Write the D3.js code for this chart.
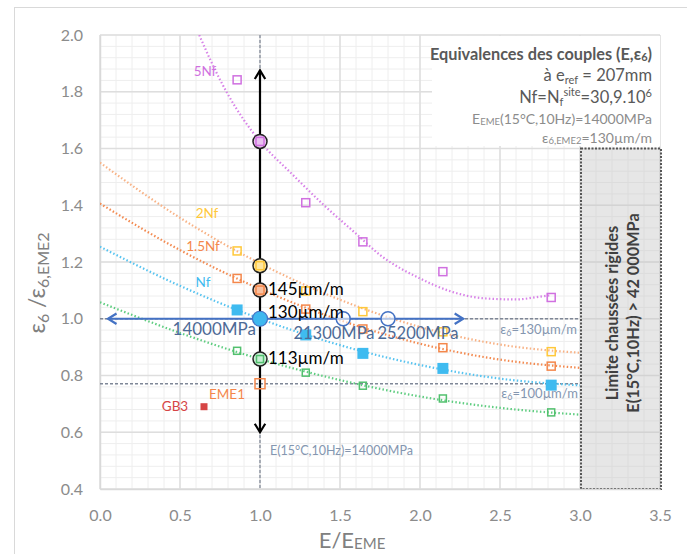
<!DOCTYPE html>
<html><head><meta charset="utf-8">
<script src="https://cdn.jsdelivr.net/npm/d3@7/dist/d3.min.js"></script>
<style>
body{margin:0;background:#fff;}
svg{display:block;font-family:Lato,"Open Sans",sans-serif;}
</style></head>
<body><svg id="c" width="687" height="554"></svg>
<script>
// ---- data ----
const xTicks = [0.0,0.5,1.0,1.5,2.0,2.5,3.0,3.5];
const yTicks = [0.4,0.6,0.8,1.0,1.2,1.4,1.6,1.8,2.0];
const xE = [0.857, 1.0, 1.286, 1.643, 2.143, 2.82];
const v5Nf   = [1.842, 1.625, 1.409, 1.271, 1.166, 1.075];
const v2Nf   = [1.239, 1.187, 1.098, 1.025, 0.954, 0.884];
const v15Nf  = [1.142, 1.101, 1.034, 0.964, 0.898, 0.833];
const vNf    = [1.031, 1.000, 0.943, 0.878, 0.825, 0.766];
const vLow   = [0.887, 0.858, 0.810, 0.764, 0.719, 0.670];
// trend lines
const tX5 = [0.62, 0.7, 0.8, 0.9, 1.0, 1.2, 1.4, 1.6, 1.75, 2.0, 2.2, 2.4, 2.6, 2.75, 2.82];
const t5Nf = [2.00, 1.90, 1.79, 1.70, 1.625, 1.51, 1.40, 1.30, 1.225, 1.142, 1.095, 1.072, 1.068, 1.078, 1.083];
const tX = [0, 0.5, 1.0, 1.5, 2.0, 2.5, 3.0];
const t2Nf  = [1.550, 1.356, 1.195, 1.067, 0.971, 0.909, 0.880];
const t15Nf = [1.406, 1.242, 1.105, 0.995, 0.912, 0.856, 0.827];
const tNf   = [1.254, 1.116, 1.000, 0.907, 0.837, 0.789, 0.765];
const tLow  = [1.058, 0.950, 0.858, 0.784, 0.726, 0.686, 0.662];
const eme1 = [1.0, 0.771];
const gb3 = [0.65, 0.69];
const circlesE = [1.52, 1.80];
const circleLabels = ["14000MPa","21300MPa","25200MPa"];
const strainLabels = ["145µm/m","130µm/m","113µm/m"];

const svg = d3.select("#c");
const x = d3.scaleLinear().domain([0,3.5]).range([100,660]);
const y = d3.scaleLinear().domain([0.4,2.0]).range([489,35]);

// outer border
svg.append("rect").attr("x",14.5).attr("y",7.5).attr("width",700).attr("height",600)
  .attr("fill","#fff").attr("stroke","#d9d9d9");

// grid
const g = svg.append("g");
d3.range(0,3.5001,0.1).forEach(v=>{
  g.append("line").attr("x1",x(v)).attr("x2",x(v)).attr("y1",y(0.4)).attr("y2",y(2.0))
   .attr("stroke","#eeeeee").attr("stroke-width",1);
});
d3.range(0.4,2.0001,0.04).forEach(v=>{
  g.append("line").attr("x1",x(0)).attr("x2",x(3.5)).attr("y1",y(v)).attr("y2",y(v))
   .attr("stroke","#eeeeee").attr("stroke-width",1);
});
xTicks.forEach(v=>{
  g.append("line").attr("x1",x(v)).attr("x2",x(v)).attr("y1",y(0.4)).attr("y2",y(2.0))
   .attr("stroke","#dedede").attr("stroke-width",1.5);
});
yTicks.forEach(v=>{
  g.append("line").attr("x1",x(0)).attr("x2",x(3.5)).attr("y1",y(v)).attr("y2",y(v))
   .attr("stroke","#dedede").attr("stroke-width",1.5);
});

// white box behind top-right text
svg.append("rect").attr("x",432).attr("y",36).attr("width",228).attr("height",110).attr("fill","#fff");

// gray limit box
svg.append("rect").attr("x",x(3.0)+1).attr("y",y(1.6)).attr("width",x(3.5)-x(3.0)).attr("height",y(0.4)-y(1.6))
  .attr("fill","rgba(195,195,195,0.42)").attr("stroke","#555").attr("stroke-width",2).attr("stroke-dasharray","2,1.5");

// axes
const ax = svg.append("g").attr("transform",`translate(0,${y(0.4)})`)
  .call(d3.axisBottom(x).tickValues(xTicks).tickFormat(d3.format(".1f")).tickSize(0).tickPadding(21));
const ay = svg.append("g").attr("transform",`translate(${x(0)},0)`)
  .call(d3.axisLeft(y).tickValues(yTicks).tickFormat(d3.format(".1f")).tickSize(0).tickPadding(17));
[ax,ay].forEach(a=>{
  a.select(".domain").attr("stroke","#d9d9d9").attr("stroke-width",1.5);
  a.selectAll("text").attr("fill","#8c8c8c").style("font-size","16px").style("font-family","Lato");
});

// dashed reference lines
const dashC = "#7f8797";
svg.append("line").attr("x1",x(1)).attr("x2",x(1)).attr("y1",y(2.0)).attr("y2",y(0.4))
  .attr("stroke",dashC).attr("stroke-width",1.2).attr("stroke-dasharray","3,2");
svg.append("line").attr("x1",x(0)).attr("x2",x(3.0)).attr("y1",y(1.0)).attr("y2",y(1.0))
  .attr("stroke",dashC).attr("stroke-width",1.5).attr("stroke-dasharray","3,2");
svg.append("line").attr("x1",x(0)).attr("x2",x(3.0)).attr("y1",y(0.771)).attr("y2",y(0.771))
  .attr("stroke",dashC).attr("stroke-width",1.5).attr("stroke-dasharray","3,2");

// clip
svg.append("clipPath").attr("id","pc").append("rect").attr("x",x(0)).attr("y",y(2.0)).attr("width",x(3.5)-x(0)).attr("height",y(0.4)-y(2.0));

const line = d3.line().x(d=>x(d[0])).y(d=>y(d[1])).curve(d3.curveMonotoneX);
const curves = [
  [tX5, t5Nf, "#d883e8"],
  [tX, t2Nf, "#f8b285"],
  [tX, t15Nf, "#f38a50"],
  [tX, tNf, "#56c3f0"],
  [tX, tLow, "#5fcd80"]
];
curves.forEach(([xs,ys,c])=>{
  svg.append("path").attr("clip-path","url(#pc)")
    .attr("d", line(xs.map((v,i)=>[v,ys[i]])))
    .attr("fill","none").attr("stroke",c).attr("stroke-width",2.2)
    .attr("stroke-dasharray","1.5,2.2").attr("stroke-linecap","butt");
});

// arrows
function chevron(sel, px, py, dir, color, w){
  const a = dir*Math.PI/180, L=10, sp=0.55;
  const p1=[px - L*Math.cos(a-sp), py - L*Math.sin(a-sp)];
  const p2=[px - L*Math.cos(a+sp), py - L*Math.sin(a+sp)];
  sel.append("path").attr("d",`M${p1[0]},${p1[1]}L${px},${py}L${p2[0]},${p2[1]}`)
    .attr("fill","none").attr("stroke",color).attr("stroke-width",w);
}
svg.append("line").attr("x1",x(1)).attr("x2",x(1)).attr("y1",y(1.875)).attr("y2",y(0.6))
  .attr("stroke","#000").attr("stroke-width",2.2);
chevron(svg, x(1), y(1.875), -90, "#000", 2.2);
chevron(svg, x(1), y(0.6), 90, "#000", 2.2);

const blue = "#4472c4";
svg.append("line").attr("x1",x(0.05)).attr("x2",x(2.27)).attr("y1",y(1.0)).attr("y2",y(1.0))
  .attr("stroke",blue).attr("stroke-width",2.2);
chevron(svg, x(0.05), y(1.0), 180, blue, 2.2);
chevron(svg, x(2.27), y(1.0), 0, blue, 2.2);

circlesE.forEach(v=>{
  svg.append("circle").attr("cx",x(v)).attr("cy",y(1.0)).attr("r",7)
    .attr("fill","rgba(255,255,255,0.6)").attr("stroke",blue).attr("stroke-width",1.5);
});

const circleSeries = [[v5Nf[1],"#e8c0f0"],[v2Nf[1],"#ffe6a0"],[v15Nf[1],"#f8c0a0"],[vLow[1],"#c8eed4"]];
circleSeries.forEach(([v,f])=>{
  svg.append("circle").attr("cx",x(1)).attr("cy",y(v)).attr("r",7)
    .attr("fill",f).attr("stroke","#222").attr("stroke-width",1.5);
});

function openSq(xs, ys, color, s){
  xs.forEach((v,i)=>{
    svg.append("rect").attr("x",x(v)-s/2).attr("y",y(ys[i])-s/2).attr("width",s).attr("height",s)
      .attr("fill","none").attr("stroke",color).attr("stroke-width",1.5);
  });
}
openSq(xE, v5Nf, "#d070e0", 8);
openSq(xE, v2Nf, "#ffc83a", 8);
openSq(xE, v15Nf, "#f4874b", 8);
openSq(xE, vLow, "#52c06e", 7);
xE.forEach((v,i)=>{
  if(i===1) return;
  svg.append("rect").attr("x",x(v)-5.5).attr("y",y(vNf[i])-5.5).attr("width",11).attr("height",11)
    .attr("fill","#3fbbf0");
});
svg.append("circle").attr("cx",x(1)).attr("cy",y(1.0)).attr("r",7.5)
  .attr("fill","#3fb8ef").attr("stroke",blue).attr("stroke-width",1.2);
svg.append("rect").attr("x",x(eme1[0])-5).attr("y",y(eme1[1])-5).attr("width",10).attr("height",10)
  .attr("fill","none").attr("stroke","#f4874b").attr("stroke-width",1.5);
svg.append("rect").attr("x",x(gb3[0])-3.5).attr("y",y(gb3[1])-3.5).attr("width",7).attr("height",7)
  .attr("fill","#d64545");

function txt(t, px, py, opts={}){
  const e = svg.append("text").attr("x",px).attr("y",py).text(t)
    .attr("fill",opts.fill||"#000").style("font-size",(opts.size||13)+"px")
    .attr("text-anchor",opts.anchor||"middle").attr("dominant-baseline","central");
  if(opts.weight) e.style("font-weight",opts.weight);
  return e;
}
txt("5Nf", 205, 71, {fill:"#d070e0", size:13.5});
txt("2Nf", 207, 213, {fill:"#ffc83a", size:13.5});
txt("1.5Nf", 203, 246, {fill:"#f4874b", size:13.5});
txt("Nf", 203, 282, {fill:"#3fbbf0", size:13.5});
txt("EME1", 227, 394, {fill:"#f4874b", size:13.5});
txt("GB3", 175, 406, {fill:"#d64545", size:13.5});

strainLabels.forEach((t,i)=>{
  const py = [288, 311, 357][i];
  txt(t, x(1)+8, py, {anchor:"start", size:17});
});
const mpaC = "#4d6a96";
txt(circleLabels[0], 256, 328, {anchor:"end", size:17, fill:mpaC});
txt(circleLabels[1], 334, 333, {size:16.5, fill:mpaC});
txt(circleLabels[2], 418, 333, {size:16.5, fill:mpaC});

const lg = "#8496b0";
function epsLabel(val, px, py){
  const t = svg.append("text").attr("x",px).attr("y",py).attr("text-anchor","end")
    .attr("dominant-baseline","central").attr("fill",lg).style("font-size","13px");
  t.append("tspan").text("ε");
  t.append("tspan").text("6").attr("dy",3).style("font-size","9px");
  t.append("tspan").text("="+val).attr("dy",-3);
}
epsLabel("130µm/m", 577, 329);
epsLabel("100µm/m", 578, 393);
txt("E(15°C,10Hz)=14000MPa", 270, 450, {anchor:"start", size:12.5, fill:lg});

// top-right block
const dk = "#595959", md = "#8c8c8c";
{
  const t = svg.append("text").attr("x",652).attr("y",53).attr("text-anchor","end").attr("dominant-baseline","central")
    .attr("fill",dk).style("font-size","16.3px").style("font-weight","bold");
  t.append("tspan").text("Equivalences des couples (E,ε");
  t.append("tspan").text("6").attr("dy",3).style("font-size","11px");
  t.append("tspan").text(")").attr("dy",-3);
}
{
  const t = svg.append("text").attr("x",652).attr("y",75).attr("text-anchor","end").attr("dominant-baseline","central")
    .attr("fill",dk).style("font-size","16.5px");
  t.append("tspan").text("à e");
  t.append("tspan").text("ref").attr("dy",4).style("font-size","11px");
  t.append("tspan").text(" = 207mm").attr("dy",-4);
}
{
  const t = svg.append("text").attr("x",652).attr("y",97).attr("text-anchor","end").attr("dominant-baseline","central")
    .attr("fill",dk).style("font-size","16.5px");
  t.append("tspan").text("Nf=N");
  t.append("tspan").text("f").attr("dy",4).style("font-size","11px");
  t.append("tspan").text("site").attr("dy",-10).style("font-size","11px");
  t.append("tspan").text("=30,9.10").attr("dy",6);
  t.append("tspan").text("6").attr("dy",-5).style("font-size","11px");
}
{
  const t = svg.append("text").attr("x",652).attr("y",118).attr("text-anchor","end").attr("dominant-baseline","central")
    .attr("fill",md).style("font-size","14px");
  t.append("tspan").text("E");
  t.append("tspan").text("EME").attr("dy",3).style("font-size","9.5px");
  t.append("tspan").text("(15°C,10Hz)=14000MPa").attr("dy",-3);
}
{
  const t = svg.append("text").attr("x",652).attr("y",137).attr("text-anchor","end").attr("dominant-baseline","central")
    .attr("fill",md).style("font-size","14px");
  t.append("tspan").text("ε");
  t.append("tspan").text("6,EME2").attr("dy",3).style("font-size","9.5px");
  t.append("tspan").text("=130µm/m").attr("dy",-3);
}

// rotated text in gray box
const rg = svg.append("g").attr("transform",`translate(621,313) rotate(-90)`);
rg.append("text").attr("x",0).attr("y",-9.5).attr("text-anchor","middle").attr("dominant-baseline","central")
  .attr("fill","#404040").style("font-size","16.3px").style("font-weight","bold").text("Limite chaussées rigides");
rg.append("text").attr("x",0).attr("y",11).attr("text-anchor","middle").attr("dominant-baseline","central")
  .attr("fill","#404040").style("font-size","16.3px").style("font-weight","bold").text("E(15°C,10Hz) > 42 000MPa");

// axis titles
{
  const t = svg.append("text").attr("x",352).attr("y",539).attr("text-anchor","middle").attr("dominant-baseline","central")
    .attr("fill","#808080").style("font-size","22px");
  t.append("tspan").text("E/E");
  t.append("tspan").text("EME").attr("dy",4).style("font-size","15px");
}
{
  const t = svg.append("text").attr("transform","translate(36,283) rotate(-90)").attr("text-anchor","middle")
    .attr("dominant-baseline","central").attr("fill","#808080").style("font-size","23px");
  t.append("tspan").text("ε");
  t.append("tspan").text("6").attr("dy",6).style("font-size","16px");
  t.append("tspan").text(" /ε").attr("dy",-6);
  t.append("tspan").text("6,EME2").attr("dy",6).style("font-size","16px");
}
</script></body></html>
